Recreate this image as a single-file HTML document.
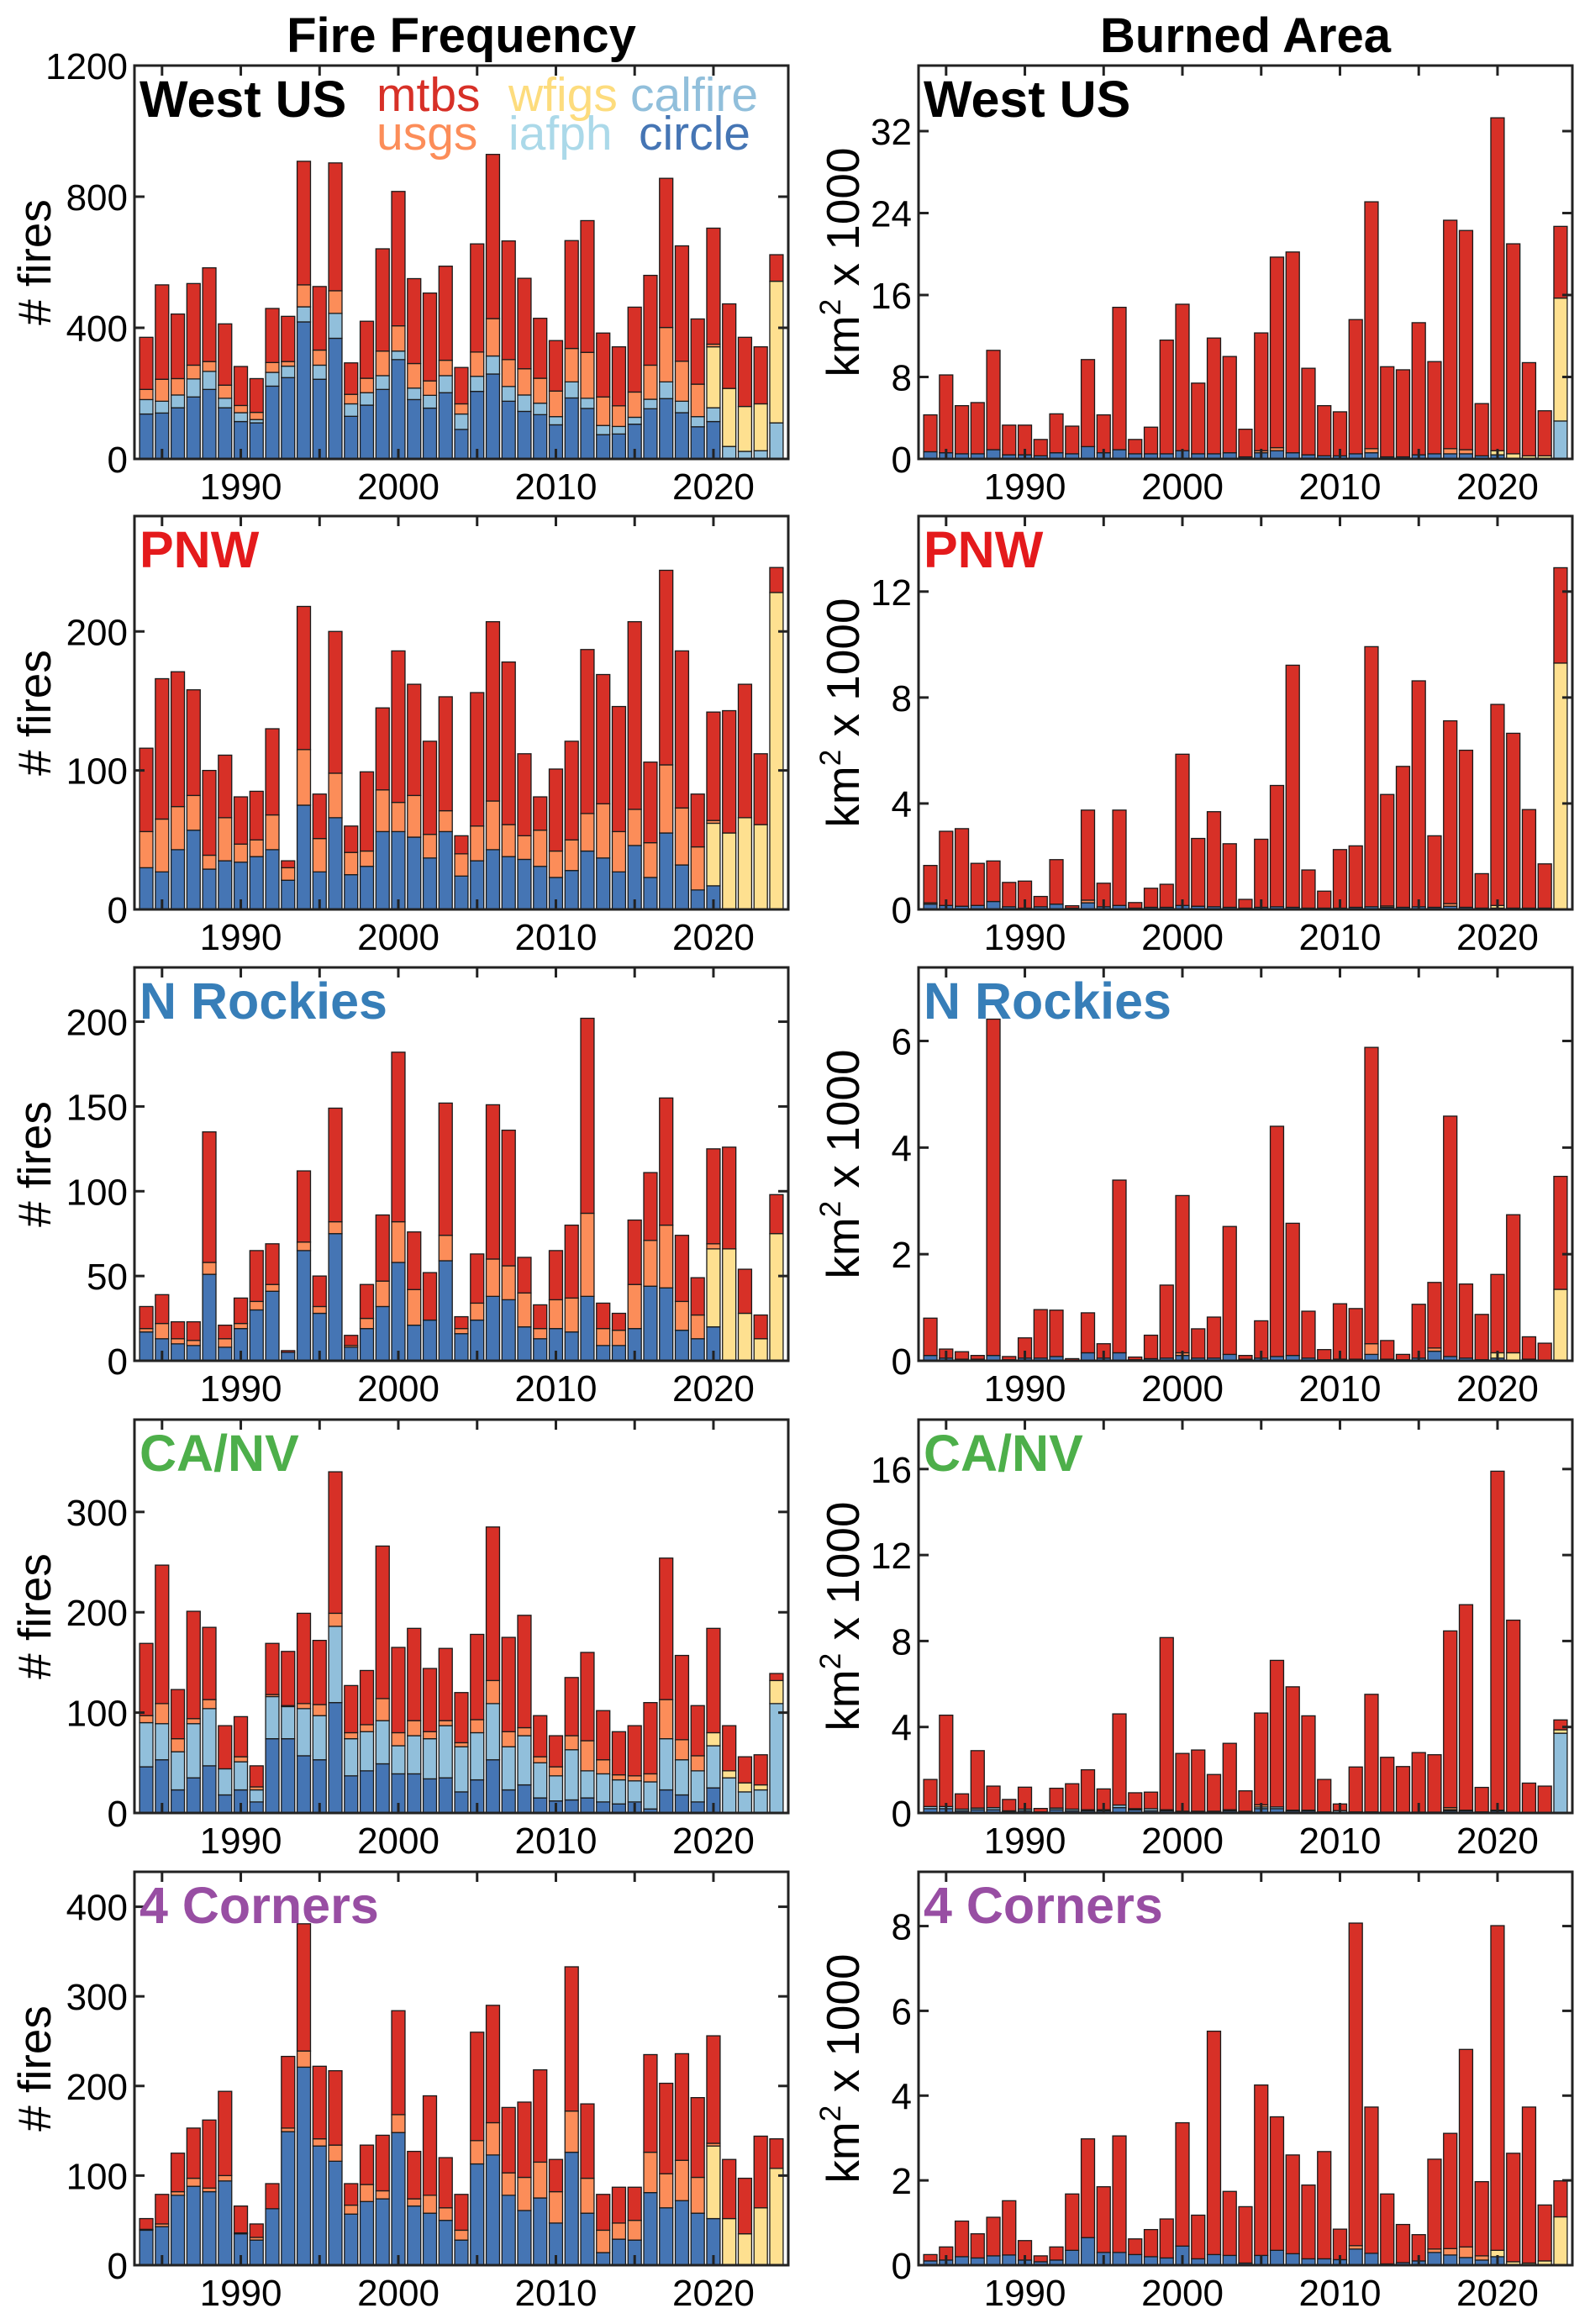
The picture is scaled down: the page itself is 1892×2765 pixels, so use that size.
<!DOCTYPE html>
<html><head><meta charset="utf-8"><title>Fire Frequency and Burned Area</title>
<style>
html,body{margin:0;padding:0;background:#fff;}
svg{display:block;font-family:"Liberation Sans",Arial,sans-serif;}
</style></head>
<body>
<svg id="fig" width="1892" height="2765" viewBox="0 0 1892 2765" xmlns="http://www.w3.org/2000/svg">
<text x="549" y="62" font-size="58" font-weight="bold" text-anchor="middle">Fire Frequency</text>
<text x="1482" y="62" font-size="58" font-weight="bold" text-anchor="middle">Burned Area</text>
</svg>
<script>
// ---------- categories ----------
const years = [];
for (let y = 1984; y <= 2024; y++) years.push(y);
const z36 = Array(36).fill(0);
const z41 = Array(41).fill(0);

// ---------- West US : fire frequency ----------
const westFreqCircle = [137,140,156,189,212,156,114,110,222,248, 418,243,368,130,164,212,303,181,155,202, 90,206,259,176,145,135,104,186,154,74, 76,106,153,184,141,98,114,0,0,0, 0];
const westFreqCalfire = [44,36,39,55,55,29,27,10,42,35, 46,43,76,38,38,42,26,35,39,52, 47,46,55,45,50,35,25,49,31,28, 23,21,29,51,35,31,42,38,23,25, 110];
const westFreqWfigs = z36.concat([186,177,137,143,432]);
const westFreqUsgs = [31,67,50,42,30,40,22,22,30,14, 67,46,69,29,44,75,77,75,44,47, 31,74,114,82,80,76,78,102,140,87, 63,77,104,166,122,99,8,0,0,0, 0];
const westFreqMtbs = [159,288,197,249,286,187,119,103,165,138, 377,194,390,96,174,312,410,259,268,287, 111,330,501,362,276,183,154,329,402,195, 180,259,274,455,352,199,354,258,211,174, 81];

// ---------- West US : burned area ----------
const westAreaCircle = [0.7,0.6,0.5,0.5,0.9,0.4,0.4,0.3,0.6,0.5, 1.2,0.6,0.9,0.5,0.5,0.5,0.8,0.5,0.5,0.6, 0.2,0.6,0.8,0.6,0.4,0.3,0.3,0.5,0.6,0.2, 0.2,0.4,0.5,0.5,0.5,0.3,0.4,0,0,0, 0];
const westAreaCalfire = Array(40).fill(0).concat([3.7]);
const westAreaWfigs = z36.concat([0.4,0.5,0.3,0.3,12.0]);
const westAreaUsgs = [0,0,0,0,0,0,0,0,0,0, 0,0,0,0,0,0,0,0,0,0, 0,0.2,0.3,0,0,0,0,0,0.4,0, 0,0,0,0.5,0.4,0,0,0,0,0, 0];
const westAreaMtbs = [3.6,7.6,4.7,5.0,9.7,2.9,2.9,1.6,3.8,2.7, 8.5,3.7,13.9,1.4,2.6,11.1,14.3,6.9,11.3,9.4, 2.7,11.5,18.6,19.6,8.45,4.9,4.3,13.1,24.1,8.8, 8.5,12.9,9.0,22.3,21.4,5.1,32.5,20.5,9.1,4.4, 7.0];

// ---------- PNW ----------
const pnwFreqCircle = [30,27,43,57,29,35,34,38,43,21, 75,27,66,25,31,56,56,52,37,56, 24,35,43,38,36,31,23,28,42,37, 27,46,23,55,32,14,17,0,0,0, 0];
const pnwFreqCalfire = z41;
const pnwFreqWfigs = z36.concat([45,55,66,61,228]);
const pnwFreqUsgs = [26,38,31,25,10,31,13,12,25,9, 40,24,32,16,11,30,21,30,17,15, 16,25,35,23,17,26,19,22,27,39, 29,26,25,49,41,31,2,0,0,0, 0];
const pnwFreqMtbs = [60,101,97,76,61,45,34,35,62,5, 103,32,102,19,57,59,109,80,67,82, 13,96,129,117,59,24,59,71,118,93, 90,135,58,140,113,38,78,88,96,51, 18];

const pnwAreaCircle = [0.2,0.15,0.12,0.15,0.3,0.1,0.05,0.1,0.2,0.05, 0.25,0.1,0.15,0.05,0.08,0.08,0.15,0.12,0.1,0.08, 0.05,0.08,0.1,0.08,0.05,0.05,0.05,0.08,0.1,0.08, 0.08,0.1,0.08,0.12,0.08,0.05,0.05,0,0,0, 0];
const pnwAreaCalfire = z41;
const pnwAreaWfigs = z36.concat([0.1,0.05,0.05,0.05,9.3]);
const pnwAreaUsgs = [0.05,0,0,0,0,0,0,0,0,0, 0.1,0,0,0,0,0,0,0,0,0, 0,0,0,0,0,0,0,0,0,0.05, 0,0,0,0.1,0,0,0,0,0,0, 0];
const pnwAreaMtbs = [1.41,2.8,2.93,1.59,1.53,0.92,1.02,0.39,1.68,0.09, 3.4,0.89,3.6,0.21,0.72,0.87,5.71,2.56,3.59,2.4, 0.33,2.57,4.58,9.14,1.44,0.64,2.21,2.32,9.82,4.21, 5.32,8.53,2.7,6.9,5.93,1.3,7.59,6.6,3.72,1.67, 3.6];

// ---------- N Rockies ----------
const nrFreqCircle = [17,13,10,9,51,8,19,30,41,5, 65,28,75,8,19,32,58,21,24,59, 16,24,38,36,20,13,19,17,38,9, 9,19,44,43,18,13,20,0,0,0, 0];
const nrFreqCalfire = z41;
const nrFreqWfigs = z36.concat([46,66,28,13,75]);
const nrFreqUsgs = [2,9,3,3,7,5,3,5,4,0, 5,4,7,1,6,15,24,21,0,15, 3,10,22,20,20,6,17,20,49,10, 9,26,27,37,17,14,3,0,0,0, 0];
const nrFreqMtbs = [13,17,10,11,77,8,15,30,24,1, 42,18,67,6,20,39,100,34,28,78, 7,29,91,80,21,14,29,43,115,15, 10,38,40,75,39,22,56,60,26,14, 23];

const nrAreaCircle = [0.1,0.05,0.03,0.03,0.1,0.02,0.05,0.05,0.08,0.01, 0.15,0.05,0.15,0.02,0.04,0.05,0.1,0.05,0.05,0.12, 0.03,0.05,0.08,0.1,0.05,0.02,0.03,0.03,0.12,0.03, 0.02,0.05,0.18,0.08,0.05,0.02,0.05,0,0,0, 0];
const nrAreaCalfire = z41;
const nrAreaWfigs = z36.concat([0.1,0.15,0.03,0,1.34]);
const nrAreaUsgs = [0,0,0,0,0,0,0,0,0,0, 0,0,0,0,0,0,0.05,0,0,0, 0,0,0,0,0,0,0,0,0.2,0, 0,0,0.06,0,0,0,0,0,0,0, 0];
const nrAreaMtbs = [0.7,0.17,0.14,0.07,6.31,0.06,0.38,0.91,0.87,0.03, 0.75,0.27,3.24,0.05,0.44,1.37,2.95,0.55,0.77,2.4, 0.07,0.7,4.32,2.48,0.88,0.19,1.04,0.95,5.56,0.35, 0.1,1.01,1.23,4.51,1.39,0.85,1.47,2.59,0.42,0.33, 2.12];

// ---------- CA/NV ----------
const caFreqCircle = [46,53,23,35,47,18,23,11,74,74, 57,53,110,37,42,49,39,39,34,35, 21,33,53,23,28,15,12,13,15,11, 9,11,4,23,18,11,25,0,0,0, 0];
const caFreqCalfire = [44,36,38,54,57,26,28,12,42,32, 47,44,76,37,39,43,28,38,40,52, 45,47,56,43,49,35,25,50,27,28, 24,21,27,51,35,31,42,35,21,23, 109];
const caFreqWfigs = z36.concat([13,7,9,5,23]);
const caFreqUsgs = [7,20,13,5,9,0,5,3,2,1, 5,11,13,6,7,22,13,15,7,5, 4,13,23,15,8,6,9,14,30,14, 5,5,8,39,20,15,0,0,0,0, 0];
const caFreqMtbs = [72,138,49,107,72,43,40,21,51,54, 90,64,141,47,54,152,85,92,63,72, 50,85,153,94,112,41,31,58,88,49, 43,50,71,141,84,50,104,45,26,30, 7];

const caAreaCircle = [0.2,0.2,0.1,0.15,0.15,0.05,0.1,0.03,0.15,0.1, 0.1,0.1,0.25,0.15,0.1,0.1,0.05,0.05,0.05,0.1, 0.05,0.2,0.2,0.1,0.1,0.03,0.03,0.03,0.03,0.02, 0.02,0.02,0.02,0.1,0.1,0.03,0.1,0,0,0, 0];
const caAreaCalfire = [0.1,0.1,0.08,0.08,0.1,0.05,0.08,0.02,0.08,0.08, 0.05,0.05,0.12,0.05,0.1,0.05,0.03,0.03,0.03,0.05, 0.03,0.08,0.08,0.03,0.03,0.02,0.08,0.02,0.02,0.02, 0.02,0.02,0.02,0.05,0.03,0.02,0.03,0.02,0.02,0.02, 3.71];
const caAreaWfigs = Array(40).fill(0).concat([0.16]);
const caAreaUsgs = [0,0,0,0,0,0,0,0,0,0, 0,0,0,0,0,0,0,0,0,0, 0,0.1,0,0,0,0,0,0,0,0, 0,0,0,0.1,0,0,0,0,0,0, 0];
const caAreaMtbs = [1.26,4.25,0.71,2.67,1.0,0.53,1.02,0.16,0.92,1.18, 1.86,0.97,4.24,0.74,0.77,8.01,2.69,2.85,1.71,3.09, 0.95,4.27,6.82,5.74,4.39,1.51,0.31,2.09,5.47,2.55, 2.12,2.77,2.67,8.22,9.56,1.14,15.77,8.95,1.37,1.23, 0.46];

// ---------- 4 Corners ----------
const fcFreqCircle = [39,43,78,88,82,94,35,28,63,149, 221,133,116,57,71,74,148,66,58,50, 28,113,123,78,61,75,47,126,58,14, 29,28,81,64,72,58,52,0,0,0, 0];
const fcFreqCalfire = z41;
const fcFreqWfigs = z36.concat([81,52,35,64,108]);
const fcFreqUsgs = [1,3,4,9,4,6,1,3,0,4, 18,8,18,10,19,9,20,8,20,14, 11,26,36,25,37,40,35,46,39,25, 18,22,45,38,45,40,3,0,0,0, 0];
const fcFreqMtbs = [12,33,43,56,76,94,30,15,28,80, 142,81,83,24,44,62,116,53,111,56, 40,121,131,73,84,103,36,161,83,40, 40,37,109,101,119,89,120,66,62,80, 33];

const fcAreaCircle = [0.1,0.12,0.2,0.17,0.22,0.24,0.12,0.08,0.12,0.35, 0.65,0.3,0.3,0.25,0.2,0.17,0.45,0.15,0.25,0.23, 0.05,0.23,0.35,0.27,0.15,0.15,0.13,0.38,0.28,0.03, 0.06,0.1,0.3,0.24,0.18,0.12,0.2,0,0,0, 0];
const fcAreaCalfire = z41;
const fcAreaWfigs = z36.concat([0.15,0.08,0.05,0.1,1.14]);
const fcAreaUsgs = [0,0,0,0,0,0,0,0,0,0, 0,0,0,0,0,0,0,0,0,0, 0,0,0,0,0,0,0,0.08,0,0, 0,0,0.08,0.15,0.25,0.1,0,0,0,0, 0];
const fcAreaMtbs = [0.15,0.31,0.84,0.57,0.91,1.28,0.46,0.14,0.31,1.33, 2.33,1.55,2.75,0.37,0.64,0.92,2.91,1.03,5.27,1.51, 1.33,4.02,3.15,2.33,1.74,2.53,0.72,7.61,3.45,1.65, 0.9,0.62,2.12,2.72,4.66,1.75,7.66,2.56,3.68,1.32, 0.85];

// ---------- tick labels ----------
const xTickYears = [1990, 2000, 2010, 2020];
const westFreqTicks = [0,400,800,1200];
const pnwFreqTicks = [0,100,200];
const nrFreqTicks = [0,50,100,150,200];
const caFreqTicks = [0,100,200,300];
const fcFreqTicks = [0,100,200,300,400];
const westAreaTicks = [0,8,16,24,32];
const pnwAreaTicks = [0,4,8,12];
const nrAreaTicks = [0,2,4,6];
const caAreaTicks = [0,4,8,12,16];
const fcAreaTicks = [0,2,4,6,8];

// ---------- drawing ----------
const NS = 'http://www.w3.org/2000/svg';
const svg = document.getElementById('fig');
const COLORS = {circle:'#4575b4', calfire:'#91bfdb', wfigs:'#fee090', usgs:'#fc8d59', mtbs:'#d73027'};
const ROW_TOP = [78, 614, 1151, 1689, 2227];
const PH = 468;
const COL_X = [160, 1093];
const PW = 778;
const XMIN = 1983.25, XMAX = 2024.75;

function el(tag, attrs, parent) {
  const e = document.createElementNS(NS, tag);
  for (const k in attrs) e.setAttribute(k, attrs[k]);
  (parent || svg).appendChild(e);
  return e;
}

const panels = [
  {key:'west-us', label:'West US', color:'#000', row:0, col:0, ymax:1200, ticks:westFreqTicks, s:[westFreqCircle,westFreqCalfire,westFreqWfigs,westFreqUsgs,westFreqMtbs]},
  {key:'west-us', label:'West US', color:'#000', row:0, col:1, ymax:38.4, ticks:westAreaTicks, s:[westAreaCircle,westAreaCalfire,westAreaWfigs,westAreaUsgs,westAreaMtbs]},
  {key:'pnw', label:'PNW', color:'#e41a1c', row:1, col:0, ymax:283, ticks:pnwFreqTicks, s:[pnwFreqCircle,pnwFreqCalfire,pnwFreqWfigs,pnwFreqUsgs,pnwFreqMtbs]},
  {key:'pnw', label:'PNW', color:'#e41a1c', row:1, col:1, ymax:14.85, ticks:pnwAreaTicks, s:[pnwAreaCircle,pnwAreaCalfire,pnwAreaWfigs,pnwAreaUsgs,pnwAreaMtbs]},
  {key:'n-rockies', label:'N Rockies', color:'#377eb8', row:2, col:0, ymax:232, ticks:nrFreqTicks, s:[nrFreqCircle,nrFreqCalfire,nrFreqWfigs,nrFreqUsgs,nrFreqMtbs]},
  {key:'n-rockies', label:'N Rockies', color:'#377eb8', row:2, col:1, ymax:7.38, ticks:nrAreaTicks, s:[nrAreaCircle,nrAreaCalfire,nrAreaWfigs,nrAreaUsgs,nrAreaMtbs]},
  {key:'ca-nv', label:'CA/NV', color:'#4daf4a', row:3, col:0, ymax:392, ticks:caFreqTicks, s:[caFreqCircle,caFreqCalfire,caFreqWfigs,caFreqUsgs,caFreqMtbs]},
  {key:'ca-nv', label:'CA/NV', color:'#4daf4a', row:3, col:1, ymax:18.3, ticks:caAreaTicks, s:[caAreaCircle,caAreaCalfire,caAreaWfigs,caAreaUsgs,caAreaMtbs]},
  {key:'4-corners', label:'4 Corners', color:'#984ea3', row:4, col:0, ymax:439, ticks:fcFreqTicks, s:[fcFreqCircle,fcFreqCalfire,fcFreqWfigs,fcFreqUsgs,fcFreqMtbs]},
  {key:'4-corners', label:'4 Corners', color:'#984ea3', row:4, col:1, ymax:9.28, ticks:fcAreaTicks, s:[fcAreaCircle,fcAreaCalfire,fcAreaWfigs,fcAreaUsgs,fcAreaMtbs]}
];
const SERIES = ['circle','calfire','wfigs','usgs','mtbs'];

panels.forEach(p => {
  const x0 = COL_X[p.col], y0 = ROW_TOP[p.row];
  const kind = p.col === 0 ? 'frequency' : 'area';
  const g = el('g', {});
  
  
  const xs = v => x0 + (v - XMIN) / (XMAX - XMIN) * PW;
  const ys = v => y0 + PH - v / p.ymax * PH;
  const bw = 0.85 * PW / (XMAX - XMIN);

  years.forEach((yr, i) => {
    let acc = 0;
    SERIES.forEach((sn, k) => {
      const v = p.s[k][i];
      if (!v || v <= 0) return;
      const yTop = ys(acc + v), yBot = ys(acc);
      acc += v;
      const r = el('rect', {x: (xs(yr) - bw/2).toFixed(2), y: yTop.toFixed(2), width: bw.toFixed(2), height: Math.max(0.5, yBot - yTop).toFixed(2), fill: COLORS[sn], stroke: '#1a1a1a', 'stroke-width': 1.3}, g);
      
      
    });
  });

  const fr = el('rect', {x: x0, y: y0, width: PW, height: PH, fill: 'none', stroke: '#222', 'stroke-width': 3}, g);
  
  

  for (let yr = 1985; yr <= 2024; yr += 5) {
    const tx = xs(yr);
    el('line', {x1: tx, y1: y0, x2: tx, y2: y0 + 12, stroke: '#222', 'stroke-width': 3}, g);
    el('line', {x1: tx, y1: y0 + PH, x2: tx, y2: y0 + PH - 12, stroke: '#222', 'stroke-width': 3}, g);
  }
  xTickYears.forEach(yr => {
    const t = el('text', {x: xs(yr), y: y0 + PH + 48, 'font-size': 44, 'text-anchor': 'middle', fill: '#000'}, g);
    t.textContent = yr;
    
    
  });

  p.ticks.forEach(v => {
    const ty = ys(v);
    el('line', {x1: x0, y1: ty, x2: x0 + 12, y2: ty, stroke: '#222', 'stroke-width': 3}, g);
    el('line', {x1: x0 + PW, y1: ty, x2: x0 + PW - 12, y2: ty, stroke: '#222', 'stroke-width': 3}, g);
    const t = el('text', {x: x0 - 8, y: ty + 16, 'font-size': 44, 'text-anchor': 'end', fill: '#000'}, g);
    t.textContent = v;
    
    
  });

  const cy = y0 + PH / 2;
  if (p.col === 0) {
    const t = el('text', {x: 0, y: 0, 'font-size': 55, 'text-anchor': 'middle', transform: 'translate(60,' + cy + ') rotate(-90)'}, g);
    t.textContent = '# fires';
    
    
  } else {
    const t = el('text', {x: 0, y: 0, 'font-size': 55, 'text-anchor': 'middle', transform: 'translate(1022,' + cy + ') rotate(-90)'}, g);
    t.innerHTML = 'km<tspan font-size="35" dy="-22">2</tspan><tspan dy="22"> x 1000</tspan>';
    
    
  }

  const lab = el('text', {x: x0 + 6, y: y0 + 61, 'font-size': 61, 'font-weight': 'bold', fill: p.color}, g);
  lab.textContent = p.label;
  
  
});

const legend = [
  ['mtbs', COLORS.mtbs, 448, 132], ['wfigs', '#fddc7d', 605, 132], ['calfire', COLORS.calfire, 750, 132],
  ['usgs', COLORS.usgs, 448, 178], ['iafph', '#abd9e9', 605, 178], ['circle', COLORS.circle, 760, 178]
];
const lg = el('g', {});


legend.forEach(([name, col, x, y]) => {
  const t = el('text', {x: x, y: y, 'font-size': 57, fill: col}, lg);
  t.textContent = name;
  
  
});
</script>
</body></html>
